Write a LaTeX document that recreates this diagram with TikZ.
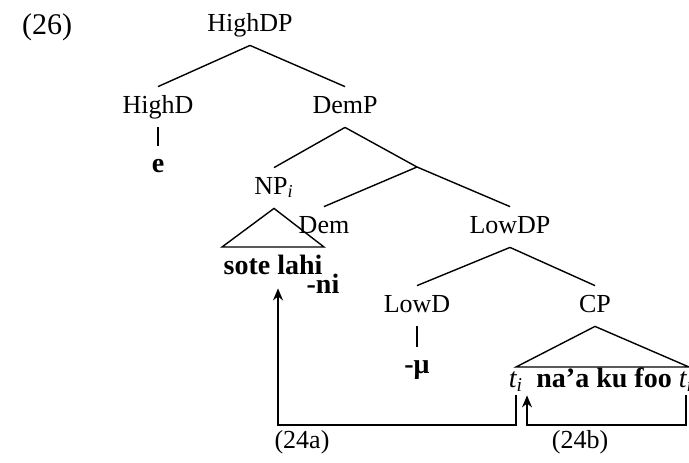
\documentclass[tikz,border=0pt]{standalone}
\usepackage{fontspec}
\setmainfont{Liberation Serif}
\usetikzlibrary{arrows.meta}

\begin{document}
\begin{tikzpicture}[x=0.5pt,y=-0.5pt]
      \tikzset{
        cat/.style={font=\fontsize{13}{15}\selectfont, text height=9pt, text depth=3pt, inner sep=4pt},
        word/.style={cat, font=\fontsize{14}{16}\selectfont\bfseries},
        branch/.style={line width=0.7pt},
        move/.style={line width=0.7pt, -{Stealth[length=6pt,width=5pt]}}
      }
      \useasboundingbox (0,0) rectangle (689,462);

      \node[font=\fontsize{15}{17}\selectfont, inner sep=0pt] (exnum) at (47,27) {(26)};

      % upper tree
      \node[cat] (highdp) at (250,25) {HighDP};
      \node[cat] (highd) at (158,107) {HighD};
      \node[cat] (demp) at (345,107) {DemP};
      \node[word] (e) at (158,166) {e};
      \node[cat] (np) at (274,188) {NP\textsubscript{\textit{i}}};
      \coordinate (dembar) at (417,167);
      \node[cat] (dem) at (324,227) {Dem};
      \node[cat] (lowdp) at (510,227) {LowDP};
      \node[word] (sote) at (273,268) {sote lahi};
      \node[word] (ni) at (323,287) {-ni};

      \draw[branch] (highdp.south) -- (highd.north);
      \draw[branch] (highdp.south) -- (demp.north);
      \draw[branch] (highd.south) -- (e.north);
      \draw[branch] (demp.south) -- (np.north);
      \draw[branch] (demp.south) -- (dembar);
      \draw[branch] (dembar) -- (dem.north);
      \draw[branch] (dembar) -- (lowdp.north);
      \draw[branch] (np.south) -- (222,247) -- (324,247) -- cycle;

      % lower tree
      \node[cat] (lowd) at (417,306) {LowD};
      \node[cat] (cp) at (595,306) {CP};
      \node[word] (mu) at (417,367) {-μ};
      \draw[branch] (lowdp.south) -- (lowd.north);
      \draw[branch] (lowdp.south) -- (cp.north);
      \draw[branch] (lowd.south) -- (mu.north);
      \draw[branch] (cp.south) -- (516,367) -- (689,367) -- cycle;

      \node[cat, font=\fontsize{14}{16}\selectfont\itshape, inner sep=1pt] (tlow) at (516,381) {t\textsubscript{i}};
      \node[word, anchor=west, inner sep=1pt] (cpwords) at (534,381) {na’a ku foo};
      \node[cat, font=\fontsize{14}{16}\selectfont\itshape, inner sep=1pt] (thigh) at (686,381) {t\textsubscript{i}};

      % movement paths
      \coordinate (lowa) at (278,425);
      \coordinate (lowb) at (527,425);
      \draw[move] (tlow.south) |- (lowa) -- (lowa |- sote.south);
      \draw[move] (thigh.south) |- (lowb) -- (lowb |- tlow.south);
      \node[cat] (laba) at (302,442) {(24a)};
      \node[cat] (labb) at (580,442) {(24b)};

    \end{tikzpicture}
\end{document}
